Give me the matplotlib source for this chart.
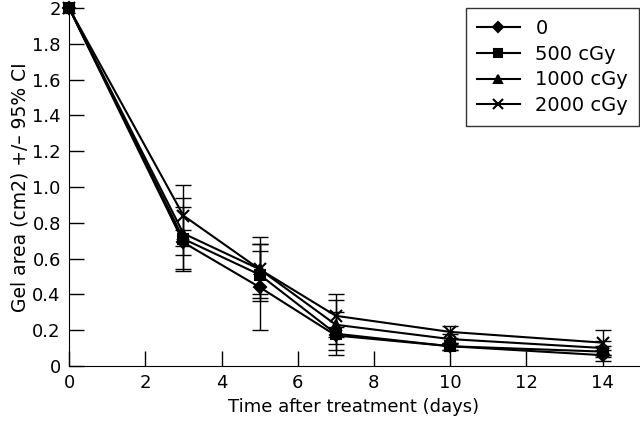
import numpy as np
import matplotlib.pyplot as plt

plt.rcParams['font.family'] = ['DejaVu Sans']

days = [0, 3, 5, 7, 10, 14]
labels = ['0', '500 cGy', '1000 cGy', '2000 cGy']
markers = ['D', 's', '^', 'x']

area_0 = [2.0, 0.69, 0.44, 0.17, 0.11, 0.06]
area_500 = [2.0, 0.71, 0.51, 0.18, 0.11, 0.08]
area_1000 = [2.0, 0.74, 0.54, 0.23, 0.15, 0.10]
area_2000 = [2.0, 0.84, 0.54, 0.28, 0.19, 0.13]

# half-width of 95% CI (none reported at day 0)
ci_0 = [np.nan, 0.07, 0.24, 0.05, 0.02, 0.03]
ci_500 = [np.nan, 0.18, 0.13, 0.12, 0.02, 0.03]
ci_1000 = [np.nan, 0.20, 0.14, 0.14, 0.03, 0.04]
ci_2000 = [np.nan, 0.17, 0.18, 0.12, 0.035, 0.07]

series = [area_0, area_500, area_1000, area_2000]
errors = [ci_0, ci_500, ci_1000, ci_2000]

fig = plt.figure(figsize=(6.4, 4.24), dpi=100)
ax = fig.add_axes([0.108, 0.137, 0.89, 0.844])

handles = []
for y, e, m, lab in zip(series, errors, markers, labels):
    ms = 9 if m == 'x' else (6 if m == 'D' else 7)
    e = np.array(e)
    ok = ~np.isnan(e)
    ax.errorbar(np.array(days)[ok], np.array(y)[ok], yerr=e[ok], fmt='none',
                ecolor='black', elinewidth=1.0, capsize=6, capthick=1.0)
    line, = ax.plot(days, y, color='black', marker=m, markersize=ms,
                    markeredgewidth=1.5, linewidth=1.5, label=lab,
                    clip_on=False)
    handles.append(line)

ax.set_xlim(0, 14.95)
ax.set_ylim(0, 2)
ax.set_xticks(np.arange(0, 15, 2))
yt = np.arange(0, 2.01, 0.2)
ax.set_yticks(yt)
ax.set_yticklabels(['0', '0.2', '0.4', '0.6', '0.8', '1.0',
                    '1.2', '1.4', '1.6', '1.8', '2'])
ax.tick_params(direction='in', length=11, width=1, labelsize=13)
ax.tick_params(axis='x', pad=6)
ax.tick_params(axis='y', pad=6)
ax.spines['top'].set_visible(False)
ax.spines['right'].set_visible(False)

ax.set_xlabel('Time after treatment (days)', fontsize=13)
ax.set_ylabel('Gel area (cm2) +/\u2013 95% CI', fontsize=13.5, labelpad=2)

leg = ax.legend(handles=handles, loc='upper right', fontsize=14, frameon=True,
                fancybox=False, edgecolor='black', borderaxespad=0,
                handlelength=2.2, labelspacing=0.35, borderpad=0.55,
                markerscale=0.85)
leg.get_frame().set_linewidth(1.0)

plt.savefig('out.png', dpi=100)
